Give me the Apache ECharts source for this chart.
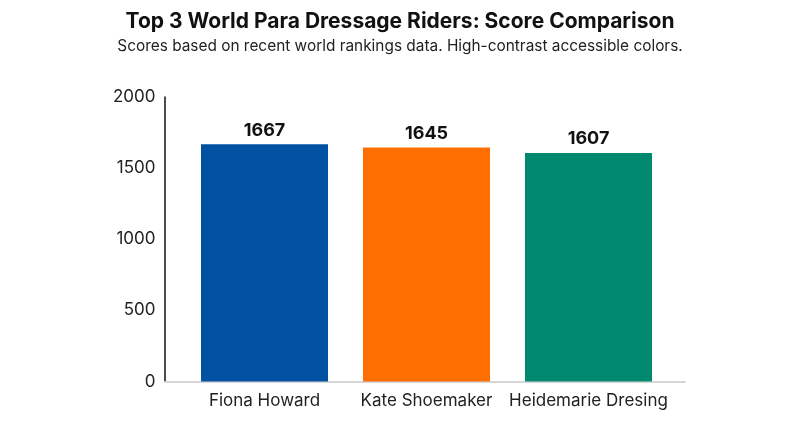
<!DOCTYPE html>
<html><head><meta charset="utf-8">
<script src="https://cdn.jsdelivr.net/npm/echarts@6/dist/echarts.min.js"></script>
<style>html,body{margin:0;padding:0;background:#fff}#c{width:800px;height:447px}</style>
</head><body><div id="c"></div>
<script>
const categories = ['Fiona Howard', 'Kate Shoemaker', 'Heidemarie Dresing'];
const scores = [1667, 1645, 1607];
const colors = ['#0051a2', '#ff6e00', '#00896f'];
const yTicks = [0, 500, 1000, 1500, 2000];

const chart = echarts.init(document.getElementById('c'));
const font = 'Inter, "Noto Sans", sans-serif';
chart.setOption({
  animation: false,
  title: {
    text: 'Top 3 World Para Dressage Riders: Score Comparison',
    subtext: 'Scores based on recent world rankings data. High-contrast accessible colors.',
    left: 'center', top: 6, itemGap: 7,
    textStyle: { fontFamily: font, fontSize: 21, fontWeight: 'bold', color: '#111' },
    subtextStyle: { fontFamily: font, fontSize: 15.4, color: '#222' }
  },
  grid: [
    { left: 183.5, right: 130.5, top: 97, bottom: 65.5 },
    { left: 165, right: 115, top: 97, bottom: 65.5 }
  ],
  xAxis: [
    { type: 'category', gridIndex: 0, data: categories,
      axisLine: { show: false }, axisTick: { show: false },
      axisLabel: { interval: 0, fontFamily: font, fontSize: 17, color: '#222', margin: 11 } },
    { type: 'value', gridIndex: 1, min: 0, max: 1,
      axisLine: { show: true, lineStyle: { color: '#d6d6d6', width: 2 } },
      axisTick: { show: false }, axisLabel: { show: false }, splitLine: { show: false } }
  ],
  yAxis: [
    { type: 'value', gridIndex: 0, min: yTicks[0], max: yTicks[yTicks.length - 1], interval: 500,
      offset: 19,
      axisLine: { show: true, lineStyle: { color: '#111', width: 1.5 } },
      axisTick: { show: false }, splitLine: { show: false },
      axisLabel: { formatter: v => String(v), fontFamily: font, fontSize: 17, color: '#222', margin: 9 } },
    { type: 'value', gridIndex: 1, show: false, min: 0, max: 1 }
  ],
  series: [{
    type: 'bar', xAxisIndex: 0, yAxisIndex: 0,
    barWidth: 127,
    data: scores.map((v, i) => ({ value: v, itemStyle: { color: colors[i] } })),
    label: { show: true, position: 'top', distance: 5,
      fontFamily: font, fontSize: 18, fontWeight: 'bold', color: '#111' }
  }]
});
</script></body></html>
